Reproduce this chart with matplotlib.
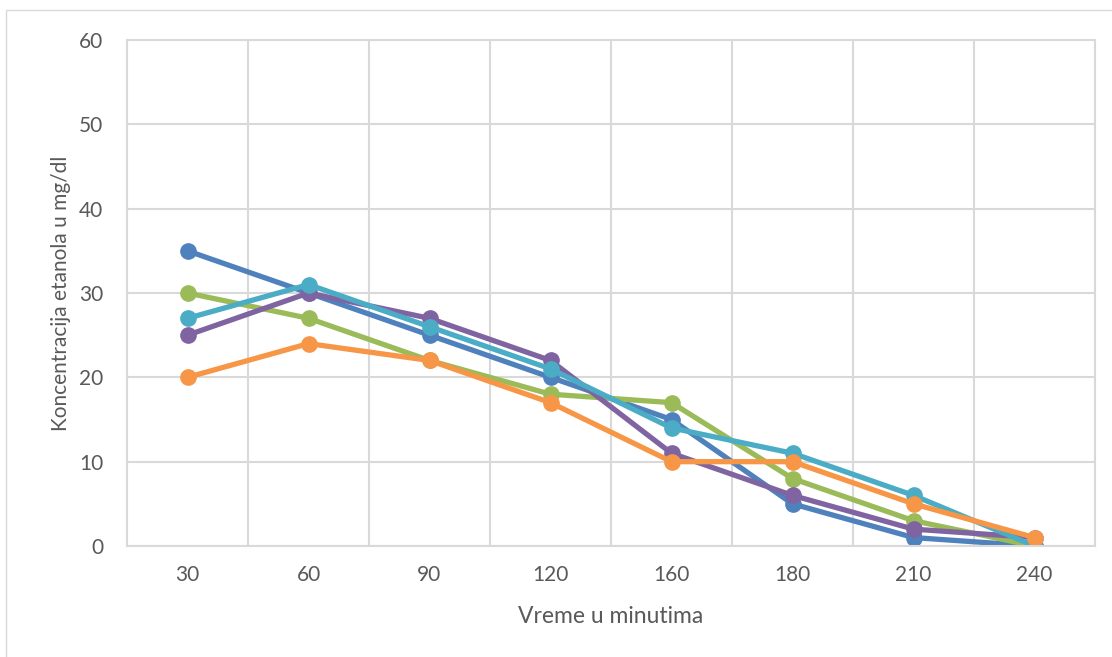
import matplotlib.pyplot as plt
from matplotlib.patches import Rectangle

plt.rcParams['font.family'] = ['Lato', 'DejaVu Sans']

vreme = ['30', '60', '90', '120', '160', '180', '210', '240']
plavi = [35, 30, 25, 20, 15, 5, 1, 0]
zeleni = [30, 27, 22, 18, 17, 8, 3, 0]
ljubicasti = [25, 30, 27, 22, 11, 6, 2, 1]
tirkizni = [27, 31, 26, 21, 14, 11, 6, 0]
narandzasti = [20, 24, 22, 17, 10, 10, 5, 1]

serije = [(plavi, '#4F81BD'), (zeleni, '#9BBB59'), (ljubicasti, '#8064A2'),
          (tirkizni, '#4BACC6'), (narandzasti, '#F79646')]

fig = plt.figure(figsize=(11.12, 6.57), dpi=100)
# outer chart border
fig.patches.append(Rectangle((6 / 1112, -0.1), 1.2, 1 - 10 / 657 + 0.1,
                             transform=fig.transFigure, fill=False,
                             edgecolor='#D9D9D9', linewidth=1))
ax = fig.add_axes([127 / 1112, 1 - 546 / 657, (1095 - 127) / 1112, (546 - 40) / 657])

x = list(range(len(vreme)))
for vals, c in serije:
    ax.plot(x, vals, color=c, linewidth=3.8, marker='o', markersize=11,
            solid_capstyle='round')

ax.set_xlim(-0.5, len(vreme) - 0.5)
ax.set_ylim(0, 60)
ax.set_yticks(range(0, 61, 10))
ax.set_xticks(x)
ax.set_xticklabels(vreme)
ax.set_xticks([i + 0.5 for i in range(-1, len(vreme))], minor=True)
ax.grid(True, which='major', axis='y', color='#D9D9D9', linewidth=1.5)
ax.grid(True, which='minor', axis='x', color='#D9D9D9', linewidth=1.5)
ax.set_axisbelow(True)
for s in ax.spines.values():
    s.set_color('#D9D9D9')
    s.set_linewidth(1.5)
ax.tick_params(which='both', length=0, labelsize=15, colors='#595959', pad=14)
ax.tick_params(axis='y', pad=17)
ax.set_xlabel('Vreme u minutima', fontsize=16.5, color='#595959')
ax.set_ylabel('Koncentracija etanola u mg/dl', fontsize=15, color='#595959')
ax.xaxis.set_label_coords(0.5, -0.118)
ax.yaxis.set_label_coords(-0.058, 0.5)

fig.savefig('out.png', dpi=100)
